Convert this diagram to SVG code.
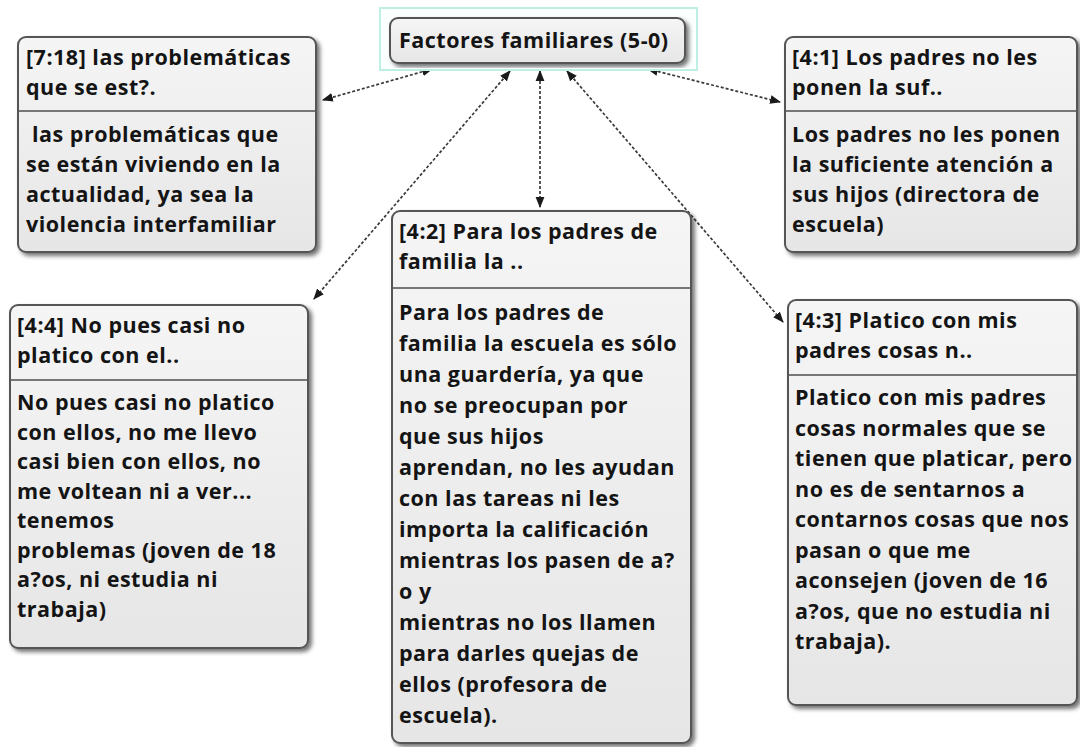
<svg xmlns="http://www.w3.org/2000/svg" width="1080" height="747" viewBox="0 0 1080 747">
<defs>
<linearGradient id="g" x1="0" y1="0" x2="0" y2="1">
<stop offset="0" stop-color="#f5f5f5"/>
<stop offset="1" stop-color="#e6e6e6"/>
</linearGradient>
<filter id="sh" x="-5%" y="-5%" width="115%" height="115%">
<feDropShadow dx="3" dy="3" stdDeviation="2" flood-color="#000" flood-opacity="0.55"/>
</filter>
<marker id="ah" viewBox="0 0 10 10" refX="9" refY="5" markerWidth="11" markerHeight="11" markerUnits="userSpaceOnUse" orient="auto-start-reverse">
<path d="M0,1 L10,5 L0,9 Z" fill="#1a1a1a"/>
</marker>
<style>
.box{fill:url(#g);stroke:#555;stroke-width:2;filter:url(#sh)}
.div{stroke:#777;stroke-width:2}
.t{font-family:"Open Sans","DejaVu Sans",sans-serif;font-weight:bold;font-size:21.5px;letter-spacing:0.5px;fill:#141414}
.c{stroke:#3a3a3a;stroke-width:1.7;stroke-dasharray:3 2;fill:none;marker-start:url(#ah);marker-end:url(#ah)}
</style>
</defs>
<rect width="1080" height="747" fill="#fff"/>
<g id="connectors">
<line class="c" x1="432" y1="69" x2="323" y2="100"/>
<line class="c" x1="648" y1="69" x2="780" y2="102"/>
<line class="c" x1="510" y1="71" x2="314" y2="299"/>
<line class="c" x1="540" y1="71" x2="540" y2="207"/>
<line class="c" x1="567" y1="71" x2="783" y2="322"/>
</g>
<g id="central">
<rect x="380" y="8" width="317" height="62" fill="#fbfffe" stroke="#bfeee3" stroke-width="2"/>
<rect class="box" x="390" y="18" width="295" height="45" rx="8"/>
<text class="t" x="399" y="48">Factores familiares (5-0)</text>
</g>
<g id="n718">
<rect class="box" x="18" y="37" width="298" height="215" rx="8"/>
<text class="t" x="26" y="65">[7:18] las problemáticas</text>
<text class="t" x="26" y="95">que se est?.</text>
<line class="div" x1="19" y1="111" x2="315" y2="111"/>
<text class="t" x="32" y="142">las problemáticas que</text>
<text class="t" x="26" y="172">se están viviendo en la</text>
<text class="t" x="26" y="202">actualidad, ya sea la</text>
<text class="t" x="26" y="232">violencia interfamiliar</text>
</g>
<g id="n41">
<rect class="box" x="785" y="37" width="292" height="215" rx="8"/>
<text class="t" x="792" y="65">[4:1] Los padres no les</text>
<text class="t" x="792" y="95">ponen la suf..</text>
<line class="div" x1="786" y1="111" x2="1076" y2="111"/>
<text class="t" x="792" y="142">Los padres no les ponen</text>
<text class="t" x="792" y="172">la suficiente atención a</text>
<text class="t" x="792" y="202">sus hijos (directora de</text>
<text class="t" x="792" y="232">escuela)</text>
</g>
<g id="n44">
<rect class="box" x="10" y="305" width="298" height="343" rx="8"/>
<text class="t" x="17" y="333">[4:4] No pues casi no</text>
<text class="t" x="17" y="363">platico con el..</text>
<line class="div" x1="11" y1="380" x2="307" y2="380"/>
<text class="t" x="17" y="410">No pues casi no platico</text>
<text class="t" x="17" y="439.5">con ellos, no me llevo</text>
<text class="t" x="17" y="469">casi bien con ellos, no</text>
<text class="t" x="17" y="498.5">me voltean ni a ver...</text>
<text class="t" x="17" y="528">tenemos</text>
<text class="t" x="17" y="557.5">problemas (joven de 18</text>
<text class="t" x="17" y="587">a?os, ni estudia ni</text>
<text class="t" x="17" y="616.5">trabaja)</text>
</g>
<g id="n42">
<rect class="box" x="392" y="211" width="299" height="532" rx="8"/>
<text class="t" x="399" y="239">[4:2] Para los padres de</text>
<text class="t" x="399" y="269">familia la ..</text>
<line class="div" x1="393" y1="288" x2="690" y2="288"/>
<text class="t" x="399" y="320">Para los padres de</text>
<text class="t" x="399" y="351">familia la escuela es sólo</text>
<text class="t" x="399" y="382">una guardería, ya que</text>
<text class="t" x="399" y="413">no se preocupan por</text>
<text class="t" x="399" y="444">que sus hijos</text>
<text class="t" x="399" y="475">aprendan, no les ayudan</text>
<text class="t" x="399" y="506">con las tareas ni les</text>
<text class="t" x="399" y="537">importa la calificación</text>
<text class="t" x="399" y="568">mientras los pasen de a?</text>
<text class="t" x="399" y="599">o y</text>
<text class="t" x="399" y="630">mientras no los llamen</text>
<text class="t" x="399" y="661">para darles quejas de</text>
<text class="t" x="399" y="692">ellos (profesora de</text>
<text class="t" x="399" y="723">escuela).</text>
</g>
<g id="n43">
<rect class="box" x="788" y="300" width="289" height="405" rx="8"/>
<text class="t" x="795" y="328">[4:3] Platico con mis</text>
<text class="t" x="795" y="358">padres cosas n..</text>
<line class="div" x1="789" y1="375" x2="1076" y2="375"/>
<text class="t" x="795" y="405">Platico con mis padres</text>
<text class="t" x="795" y="435.5">cosas normales que se</text>
<text class="t" x="795" y="466">tienen que platicar, pero</text>
<text class="t" x="795" y="496.5">no es de sentarnos a</text>
<text class="t" x="795" y="527">contarnos cosas que nos</text>
<text class="t" x="795" y="557.5">pasan o que me</text>
<text class="t" x="795" y="588">aconsejen (joven de 16</text>
<text class="t" x="795" y="618.5">a?os, que no estudia ni</text>
<text class="t" x="795" y="649">trabaja).</text>
</g>
</svg>
